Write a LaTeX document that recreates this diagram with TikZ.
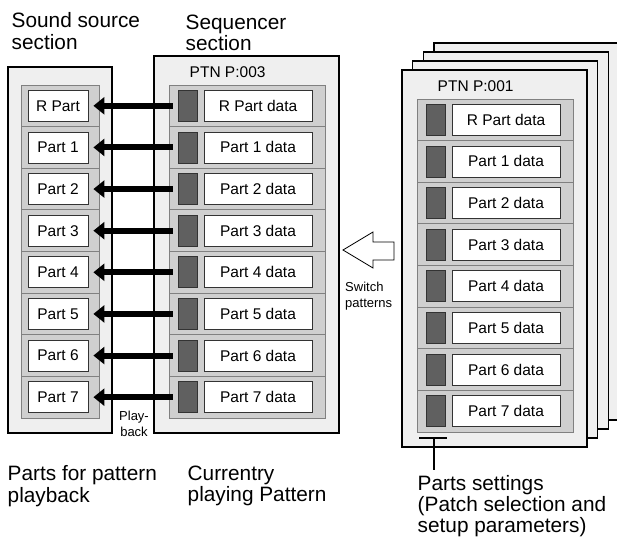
\documentclass[tikz,border=0pt]{standalone}
\usepackage{fontspec}
\setmainfont{Liberation Sans}
\usetikzlibrary{arrows.meta}
\definecolor{panelgray}{HTML}{EFEFEF}
\definecolor{stripgray}{HTML}{CFCFCF}
\definecolor{knobgray}{HTML}{606060}
\tikzset{%
    panel/.style={rectangle, draw, fill=panelgray, line width=1.4pt,
    	inner sep=0, minimum width=185pt, minimum height=377pt},
    strip/.style={rectangle, draw=black!50, fill=stripgray, line width=0.8pt,
    	inner sep=0, minimum height=41.625pt},
    partbox/.style={rectangle, draw=black!80, fill=white, line width=0.8pt,
    	inner sep=0, minimum width=60pt, minimum height=31pt,
    	font=\fontsize{15.5}{18}\selectfont},
    databox/.style={partbox, minimum width=108pt},
    knob/.style={rectangle, draw=black!80, fill=knobgray, line width=0.8pt,
    	inner sep=0, minimum width=19pt, minimum height=31pt},
    caption/.style={anchor=north west, inner sep=0, align=left,
    	font=\fontsize{20.8}{21.7}\selectfont},
    note/.style={inner sep=0, font=\fontsize{13}{15.5}\selectfont},
    playarrow/.style={line width=6pt, -{Triangle[length=11pt, width=17pt]}}
}

\begin{document}
\begin{tikzpicture}[x=1pt, y=-1pt]
  \clip (0,0) rectangle (617,538);

  % stacked patterns, back to front
  \node[panel] (b3) at (526.6,231.5) {};
  \node[panel] (b2) at (515.9,240.5) {};
  \node[panel] (b1) at (505.2,249.5) {};
  \node[panel] (ptn) at (494.5,258.5) {};

  \node[panel, minimum width=104pt, minimum height=366pt] (src) at (60,250) {};
  \node[panel] (seq) at (246.5,244.5) {};

  \foreach \lab [count=\i from 0] in {R Part, Part 1, Part 2, Part 3,
      Part 4, Part 5, Part 6, Part 7} {
    \node[strip, minimum width=78pt] (sr\i) at (60,{105.8+41.625*\i}) {};
    \node[partbox] (s\i) at (58,{105.8+41.625*\i}) {\lab};
    \node[strip, minimum width=156pt] (qr\i) at (247,{105.8+41.625*\i}) {};
    \node[knob] (k\i) at (187.5,{105.8+41.625*\i}) {};
    \node[databox] (d\i) at (258,{105.8+41.625*\i}) {\lab\ data};
    \node[strip, minimum width=156pt] (pr\i) at (495,{119.8+41.625*\i}) {};
    \node[knob] (m\i) at (435.5,{119.8+41.625*\i}) {};
    \node[databox] (e\i) at (506,{119.8+41.625*\i}) {\lab\ data};
    \draw[playarrow] ([xshift=-5pt]k\i.west) -- ([xshift=5pt]s\i.east);
  }

  \node[note, anchor=base west, font=\fontsize{15.5}{18}\selectfont]
    (seqn) at (189.5,77.7) {PTN P:003};
  \node[note, anchor=base west, font=\fontsize{15.5}{18}\selectfont]
    (ptnn) at (437.5,91.7) {PTN P:001};

  \node[caption] (srct) at (11.5,12.5) {Sound source\\section};
  \node[caption] (seqt) at (185.5,14.5) {Sequencer\\section};
  \node[caption] (srcb) at (7.5,465.5) {Parts for pattern\\playback};
  \node[caption] (seqb) at (187.5,465.5) {Currentry\\playing Pattern};
  \node[caption, font=\fontsize{20.8}{21.2}\selectfont] (sett) at (417.5,475)
    {Parts settings\\(Patch selection and\\setup parameters)};

  \node[note, align=center, anchor=north] (play) at (134,411) {Play-\\back};
  \node[note, align=left, anchor=north west] (swt) at (345,282)
    {Switch\\patterns};

  % switch arrow
  \draw[fill=white, line width=0.8pt] (394,242) -- (373,242) -- (373,232)
    -- (343,250) -- (373,268) -- (373,260) -- (394,260) -- cycle;

  % parts settings bracket
  \coordinate (bl) at (419,438); \coordinate (br) at (447,438);
  \coordinate (bm) at (434,438); \coordinate (bt) at (434,470);
  \draw[line width=1.2pt] (bl) -- (br); \draw[line width=1.2pt] (bm) -- (bt);
\end{tikzpicture}
\end{document}
